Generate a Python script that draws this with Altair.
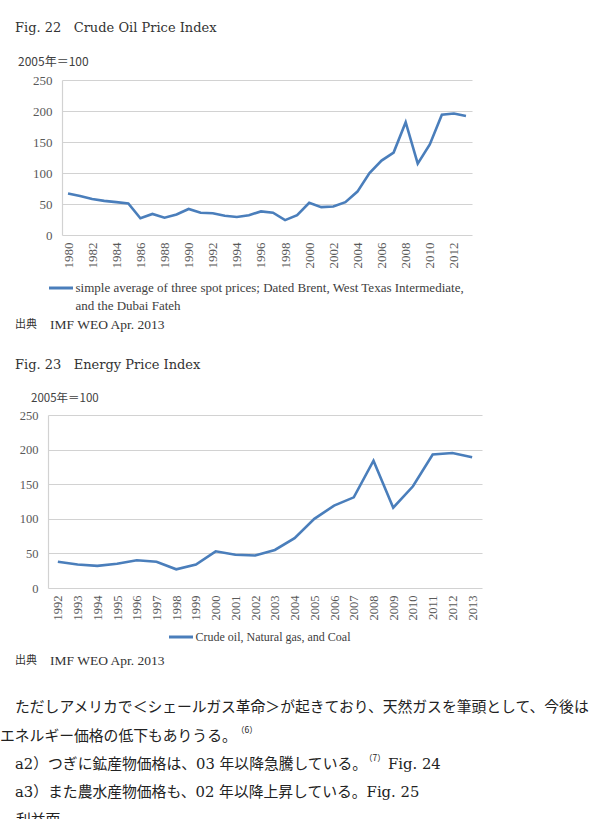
import altair as alt
import pandas as pd

# ---------------- data ----------------
crude_years = [str(y) for y in range(1980, 2014)]
crude_index = [67, 63, 58, 55, 53, 51, 27, 34, 28, 33,
               42, 36, 35, 31, 29, 32, 38, 36, 24, 32,
               52, 45, 46, 53, 70, 100, 120, 133, 182, 115,
               146, 194, 196, 192]
crude_tick_years = [str(y) for y in range(1980, 2013, 2)]

energy_years = [str(y) for y in range(1992, 2014)]
energy_index = [38, 34, 32, 35, 40, 38, 27, 34,
                53, 48, 47, 55, 72, 100, 119, 131, 184, 116,
                147, 193, 195, 189]

index_ticks = [0, 50, 100, 150, 200, 250]
crude_series = "simple average of three spot prices; Dated Brent, West Texas Intermediate, and the Dubai Fateh"
crude_legend_lines = ["simple average of three spot prices; Dated Brent, West Texas Intermediate,",
                      "and the Dubai Fateh"]
energy_series = "Crude oil, Natural gas, and Coal"

crude_df = pd.DataFrame({"year": crude_years, "value": crude_index, "series": crude_series})
energy_df = pd.DataFrame({"year": energy_years, "value": energy_index, "series": energy_series})

# ---------------- style ----------------
W, H = 597, 819
BLUE = "#4a7ebb"
GRID = "#d2d2d2"
TICK = "#595959"
SERIF = "Liberation Serif"
TITLE_FONT = "DejaVu Serif"
JP = "Noto Sans CJK JP"
BODY = "DejaVu Serif, Noto Sans CJK JP"


def line_layer(df, x0, x1, y_bottom, y_top, ticks, label_size, legend):
    return alt.Chart(df).mark_line(strokeWidth=2.6).encode(
        x=alt.X("year:O",
                scale=alt.Scale(type="point", range=[x0, x1], padding=0.5),
                axis=alt.Axis(orient="bottom", offset=y_bottom - H, values=ticks,
                              labelAngle=270, labelPadding=7, labelOverlap=False,
                              ticks=False, domain=False, grid=False, title=None,
                              labelFont=SERIF, labelFontSize=label_size, labelColor=TICK)),
        y=alt.Y("value:Q",
                scale=alt.Scale(domain=[0, 250], range=[y_bottom, y_top], nice=False),
                axis=alt.Axis(orient="left", offset=-x0, values=index_ticks,
                              grid=True, gridColor=GRID, gridWidth=1.2,
                              domain=True, domainColor=GRID, domainWidth=1.2,
                              ticks=False, labelPadding=10, title=None,
                              labelFont=SERIF, labelFontSize=label_size, labelColor=TICK)),
        color=alt.Color("series:N", scale=alt.Scale(range=[BLUE]), legend=legend),
    )


legend1 = alt.Legend(orient="none", legendX=47.5, legendY=274.5, title=None,
                     symbolType="stroke", symbolSize=576, symbolStrokeWidth=3,
                     labelExpr="['" + crude_legend_lines[0] + "', '" + crude_legend_lines[1] + "']",
                     labelFont=SERIF, labelFontSize=13, labelColor="#404040",
                     labelLimit=800, labelOffset=1, padding=0)
legend2 = alt.Legend(orient="none", legendX=167.5, legendY=623.5, title=None,
                     symbolType="stroke", symbolSize=576, symbolStrokeWidth=3,
                     labelFont=SERIF, labelFontSize=12, labelColor="#404040",
                     labelLimit=800, labelOffset=1, padding=0)

crude = line_layer(crude_df, 62, 472, 235, 80, crude_tick_years, 13, legend1)
energy = line_layer(energy_df, 48, 482, 588, 415, energy_years, 12.5, legend2)


def note(text, x, y, size, font, color="#222222", weight="normal"):
    return alt.Chart(alt.Data(values=[{}])).mark_text(
        text=text, font=font, fontSize=size, color=color, fontWeight=weight,
        align="left", baseline="middle",
    ).encode(x=alt.value(x), y=alt.value(y))


NB = "\u00a0"
texts = [
    note("Fig." + NB + "22" + NB * 3 + "Crude" + NB + "Oil" + NB + "Price" + NB + "Index", 15, 28, 13, TITLE_FONT, "#333333"),
    note("2005年＝100", 18, 62, 12, JP, "#404040"),
    note("出典", 15, 325, 11, JP, "#333333"),
    note("IMF WEO Apr. 2013", 50, 325, 13.5, SERIF, "#333333"),
    note("Fig." + NB + "23" + NB * 3 + "Energy" + NB + "Price" + NB + "Index", 15, 365, 13, TITLE_FONT, "#333333"),
    note("2005年＝100", 31, 399, 11.5, JP, "#404040"),
    note("出典", 15, 661, 11, JP, "#333333"),
    note("IMF WEO Apr. 2013", 50, 661, 13.5, SERIF, "#333333"),
    note("ただしアメリカで＜シェールガス革命＞が起きており、天然ガスを筆頭として、今後は", 15, 708, 14.8, BODY),
    note("エネルギー価格の低下もありうる。", 0, 737, 14.8, BODY),
    note("（6）", 236, 730, 8.5, JP),
    note("a2）つぎに鉱産物価格は、03 年以降急騰している。", 15, 765, 14.8, BODY),
    note("（7）", 364, 758, 8.5, JP),
    note("Fig. 24", 388, 765, 14.8, BODY),
    note("a3）また農水産物価格も、02 年以降上昇している。Fig. 25", 15, 793, 14.8, BODY),
    note("利益面", 16, 821, 14.8, BODY),
]

chart = alt.layer(crude, energy, *texts).resolve_scale(
    x="independent", y="independent", color="independent"
).properties(
    width=W, height=H, padding=0,
    autosize=alt.AutoSizeParams(type="none"),
    background="white",
).configure(
    view=alt.ViewConfig(strokeWidth=0),
    style={"guide-label": {"lineHeight": 18}},
)

chart.save("out.html", embed_options={"renderer": "svg", "actions": False})
